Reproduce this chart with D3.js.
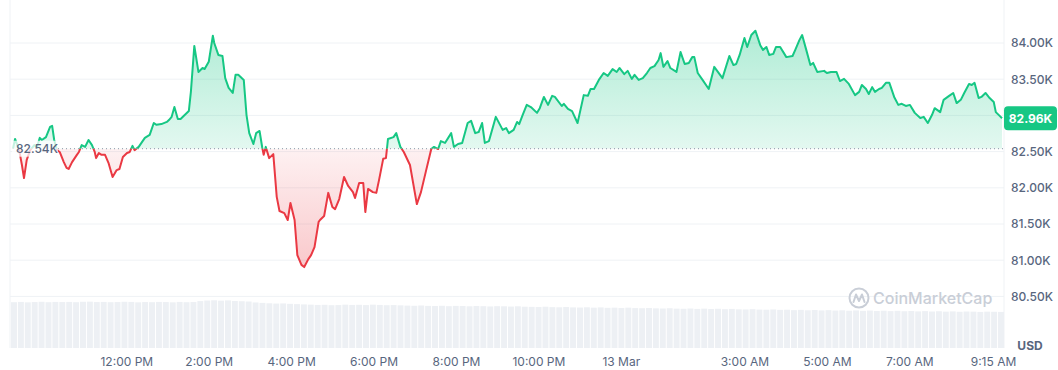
<!DOCTYPE html>
<html>
<head>
<meta charset="utf-8">
<script src="https://cdn.jsdelivr.net/npm/d3@7"></script>
<style>
  body { margin: 0; background: #fff; font-family: Inter, "Noto Sans", sans-serif; }
</style>
</head>
<body>
<div id="chart"></div>
<script>
// minutes after 12 Mar 09:15
const minutes = [
  0,3,9,13,16,20,25,31,35,39,
  42,48,54,57,60,64,68,74,78,81,
  86,93,96,100,105,110,115,119,121,125,
  129,134,139,145,151,155,160,166,170,174,
  177,183,187,192,199,205,209,216,224,227,
  231,235,240,244,250,256,259,264,270,276,
  279,285,291,293,299,305,309,314,320,324,
  328,336,340,344,350,354,359,363,365,368,
  373,379,384,388,395,400,404,410,414,420,
  424,430,434,439,445,447,453,459,465,469,
  475,482,488,495,498,504,510,513,517,524,
  529,533,539,543,546,554,558,564,569,578,
  588,594,601,609,613,619,623,629,638,642,
  648,654,662,667,673,678,683,687,693,703,
  713,718,722,729,734,737,742,748,754,763,
  767,773,779,785,789,799,802,808,814,822,
  831,837,841,846,853,860,866,873,879,883,
  890,895,901,905,911,917,923,928,934,940,
  943,947,953,957,966,972,978,984,989,992,
  997,1004,1013,1021,1033,1043,1049,1053,1058,1065,
  1069,1075,1081,1088,1092,1097,1101,1107,1111,1117,
  1126,1135,1139,1145,1149,1155,1161,1165,1171,1181,
  1185,1191,1199,1204,1210,1217,1226,1232,1236,1242,
  1246,1251,1255,1261,1265,1271,1276,1283,1289,1294,
  1300,1306,1313,1321,1326,1332,1338,1342,1350,1355,
  1363,1369,1374,1380,1385,1392,1396,1400,1406,1410,
  1416,1422,1428,1431,1437,1440
];

const prices = [
  82540,82675,82520,82315,82135,82385,82520,82590,82565,82690,
  82660,82700,82840,82855,82660,82520,82495,82355,82275,82260,
  82355,82455,82495,82590,82565,82660,82590,82495,82410,82480,
  82455,82455,82345,82150,82245,82260,82425,82480,82495,82580,
  82520,82565,82620,82690,82730,82895,82870,82880,82910,82935,
  82980,83115,82950,82950,83005,83060,83325,83960,83600,83655,
  83640,83740,84100,84000,83835,83820,83515,83380,83310,83560,
  83560,83490,83005,82755,82605,82755,82785,82550,82455,82565,
  82410,82465,81875,81680,81650,81555,81790,81555,81070,80935,
  80905,81015,81070,81180,81530,81555,81610,81930,81735,81705,
  81845,82150,82025,81940,81860,82065,82065,81665,81985,81940,
  81930,82110,82400,82410,82675,82700,82755,82565,82495,82315,
  81775,81940,82220,82535,82565,82535,82645,82620,82755,82565,
  82605,82620,82895,82925,82755,82770,82895,82620,82645,82980,
  82800,82825,82755,82800,82910,82880,83005,83145,83115,83035,
  83100,83255,83145,83270,83255,83130,83160,83090,83060,82895,
  83280,83270,83365,83365,83490,83585,83545,83640,83600,83655,
  83570,83615,83505,83560,83490,83515,83585,83655,83680,83765,
  83860,83670,83750,83655,83600,83875,83710,83725,83805,83805,
  83585,83490,83365,83670,83515,83820,83695,83710,83835,84070,
  83945,84110,84170,83970,83905,83945,83835,83850,83945,83945,
  83805,83820,83905,84040,84110,83905,83695,83725,83600,83615,
  83585,83600,83600,83475,83505,83435,83280,83325,83420,83365,
  83295,83390,83325,83365,83380,83450,83450,83255,83145,83160,
  83130,83145,83035,82965,82980,82895,83005,83100,83045,83215,
  83270,83310,83170,83215,83310,83435,83420,83450,83240,83255,
  83310,83240,83185,83045,82990,82960
];

// 24h volume (billion USD), one value per 10 minutes
const volumes = [
  33.4,33.6,33.3,33.5,33.7,33.4,33.6,33.5,
  33.6,33.4,33.7,33.8,33.5,33.6,33.4,33.5,33.7,33.6,33.3,33.5,33.4,33.6,33.5,33.3,33.6,33.4,33.5,
  34.2,34.6,34.8,34.5,34.7,34.3,34.1,33.9,
  33.2,32.9,32.6,32.4,32.5,32.2,32.0,31.8,
  31.6,31.4,31.5,31.2,31.3,31.6,31.4,31.5,31.3,31.6,31.4,31.2,31.3,31.1,
  30.9,30.8,31.0,30.7,30.6,30.8,30.5,30.7,30.6,30.4,30.6,30.5,30.3,30.5,30.4,30.2,30.4,30.1,30.0,
  29.9,30.1,29.8,29.7,29.9,29.6,29.5,29.7,29.4,29.6,29.3,29.4,29.2,29.4,29.1,
  29.0,29.2,28.9,28.8,29.0,28.7,28.6,28.8,28.5,28.7,28.4,28.6,28.3,28.5,28.2,
  28.1,28.3,28.0,27.9,28.1,27.8,27.9,27.6,27.8,27.5,27.7,27.4,27.6,27.3,27.5,
  27.2,27.4,27.1,27.3,27.0,27.2,26.9,27.1,26.8,27.0,26.7,26.9,26.6,26.8,26.5,26.7,26.4,26.6,26.5,26.3,26.5,26.4,26.3
];

const openPrice = 82540;
const lastPrice = 82960;
const priceTicks = [80500, 81000, 81500, 82000, 82500, 83000, 83500, 84000];
const tickTimes = ["2025-03-12 12:00","2025-03-12 14:00","2025-03-12 16:00","2025-03-12 18:00",
  "2025-03-12 20:00","2025-03-12 22:00","2025-03-13 00:00","2025-03-13 03:00",
  "2025-03-13 05:00","2025-03-13 07:00","2025-03-13 09:15"];
const tickLabels = ["12:00 PM","2:00 PM","4:00 PM","6:00 PM","8:00 PM","10:00 PM",
  "13 Mar","3:00 AM","5:00 AM","7:00 AM","9:15 AM"];

const width = 1058, height = 370;
const left = 10, right = 1004, bottom = 348;
const green = "#16c784", red = "#ea3943", textCol = "#58667e", gridCol = "#eff2f5";

const parse = d3.timeParse("%Y-%m-%d %H:%M");
const start = parse("2025-03-12 09:15");
const end = parse("2025-03-13 09:15");
const data = minutes.map((m, i) => ({ t: new Date(+start + m * 60000), p: prices[i] }));

const x = d3.scaleTime().domain([start, end]).range([13, 1002]);
const y = d3.scaleLinear().domain([80500, 84000]).range([296.4, 43]);
const xVol = d3.scaleBand().domain(d3.range(volumes.length)).range([left + 1, right]).paddingInner(0.14);
const yVol = d3.scaleLinear().domain([0, 35]).range([bottom, 300]);
const yBase = y(openPrice);
const by = y(lastPrice);

const svg = d3.select("#chart").append("svg")
  .attr("width", width).attr("height", height);

const defs = svg.append("defs");
const gGreen = defs.append("linearGradient").attr("id", "gGreen")
  .attr("gradientUnits", "userSpaceOnUse").attr("x1", 0).attr("x2", 0).attr("y1", 30).attr("y2", yBase);
gGreen.append("stop").attr("offset", 0).attr("stop-color", green).attr("stop-opacity", 0.34);
gGreen.append("stop").attr("offset", 1).attr("stop-color", green).attr("stop-opacity", 0.12);
const gRed = defs.append("linearGradient").attr("id", "gRed")
  .attr("gradientUnits", "userSpaceOnUse").attr("x1", 0).attr("x2", 0).attr("y1", yBase).attr("y2", 270);
gRed.append("stop").attr("offset", 0).attr("stop-color", red).attr("stop-opacity", 0.07);
gRed.append("stop").attr("offset", 1).attr("stop-color", red).attr("stop-opacity", 0.28);

defs.append("clipPath").attr("id", "above").append("rect")
  .attr("x", 0).attr("y", 0).attr("width", right).attr("height", yBase);
defs.append("clipPath").attr("id", "below").append("rect")
  .attr("x", 0).attr("y", yBase).attr("width", right).attr("height", bottom - yBase);

// grid
svg.append("g").selectAll("line").data(priceTicks).join("line")
  .attr("x1", left).attr("x2", right)
  .attr("y1", d => y(d)).attr("y2", d => y(d))
  .attr("stroke", gridCol).attr("stroke-width", 1);
svg.append("g").selectAll("line").data([left, right]).join("line")
  .attr("x1", d => d).attr("x2", d => d).attr("y1", 0).attr("y2", bottom)
  .attr("stroke", gridCol).attr("stroke-width", 1);

// volume bars
svg.append("g").selectAll("rect").data(volumes).join("rect")
  .attr("x", (d, i) => xVol(i))
  .attr("y", d => yVol(d))
  .attr("width", xVol.bandwidth())
  .attr("height", d => bottom - yVol(d))
  .attr("fill", "#edf0f4");

// watermark
const wm = svg.append("g").attr("transform", "translate(859,298)");
wm.append("circle").attr("r", 9.5).attr("fill", "none").attr("stroke", "#c9ced7").attr("stroke-width", 2);
wm.append("path").attr("d", "M-5.5,4 L-3,-3.5 L0,3 L3,-3.5 L5.5,4")
  .attr("fill", "none").attr("stroke", "#c9ced7").attr("stroke-width", 2).attr("stroke-linejoin", "round").attr("stroke-linecap", "round");
svg.append("text").attr("x", 873).attr("y", 304)
  .attr("font-size", 16).attr("font-weight", 500).attr("fill", "#c9ced7").text("CoinMarketCap");

// price area & line
const area = d3.area().x(d => x(d.t)).y0(yBase).y1(d => y(d.p));
const line = d3.line().x(d => x(d.t)).y(d => y(d.p));

svg.append("path").datum(data).attr("d", area).attr("fill", "url(#gGreen)").attr("clip-path", "url(#above)");
svg.append("path").datum(data).attr("d", area).attr("fill", "url(#gRed)").attr("clip-path", "url(#below)");

// baseline
svg.append("line").attr("x1", 58).attr("x2", right).attr("y1", yBase).attr("y2", yBase)
  .attr("stroke", "#8a93a6").attr("stroke-width", 1).attr("stroke-dasharray", "1,3");

svg.append("path").datum(data).attr("d", line).attr("fill", "none")
  .attr("stroke", green).attr("stroke-width", 2).attr("stroke-linejoin", "round").attr("clip-path", "url(#above)");
svg.append("path").datum(data).attr("d", line).attr("fill", "none")
  .attr("stroke", red).attr("stroke-width", 2).attr("stroke-linejoin", "round").attr("clip-path", "url(#below)");

// open price label
svg.append("rect").attr("x", 12).attr("y", yBase - 8).attr("width", 46).attr("height", 16)
  .attr("fill", "#fff").attr("opacity", 0.75);
svg.append("text").attr("x", 16).attr("y", yBase + 4.5)
  .attr("font-size", 12).attr("font-weight", 500).attr("fill", textCol)
  .text((openPrice / 1000).toFixed(2) + "K");

// y axis (the label hidden under the price badge is left out)
const yAxis = svg.append("g").attr("transform", `translate(${right},0)`)
  .call(d3.axisRight(y).tickValues(priceTicks.filter(d => Math.abs(y(d) - by) > 14))
    .tickSize(0).tickPadding(7)
    .tickFormat(d => (d / 1000).toFixed(2) + "K"));
yAxis.select(".domain").remove();
yAxis.selectAll("text").attr("font-family", "Inter, sans-serif").attr("font-size", 12)
  .attr("font-weight", 500).attr("fill", textCol);

// x axis
const xAxis = svg.append("g").attr("transform", `translate(0,${bottom})`)
  .call(d3.axisBottom(x).tickValues(tickTimes.map(parse)).tickSize(0).tickPadding(9)
    .tickFormat((d, i) => tickLabels[i]));
xAxis.select(".domain").remove();
xAxis.selectAll("text").attr("font-family", "Inter, sans-serif").attr("font-size", 12)
  .attr("fill", textCol);
xAxis.selectAll(".tick").filter((d, i) => i === tickLabels.length - 1)
  .select("text").attr("dx", -9);

// current price badge
svg.append("rect").attr("x", right).attr("y", by - 12).attr("width", 53).attr("height", 24)
  .attr("rx", 4).attr("fill", green);
svg.append("text").attr("x", right + 26.5).attr("y", by + 4.5).attr("text-anchor", "middle")
  .attr("font-size", 12).attr("font-weight", 700).attr("fill", "#fff")
  .text((lastPrice / 1000).toFixed(2) + "K");

svg.append("text").attr("x", 1030).attr("y", 350).attr("text-anchor", "middle")
  .attr("font-size", 12).attr("font-weight", 700).attr("fill", textCol).text("USD");
</script>
</body>
</html>
